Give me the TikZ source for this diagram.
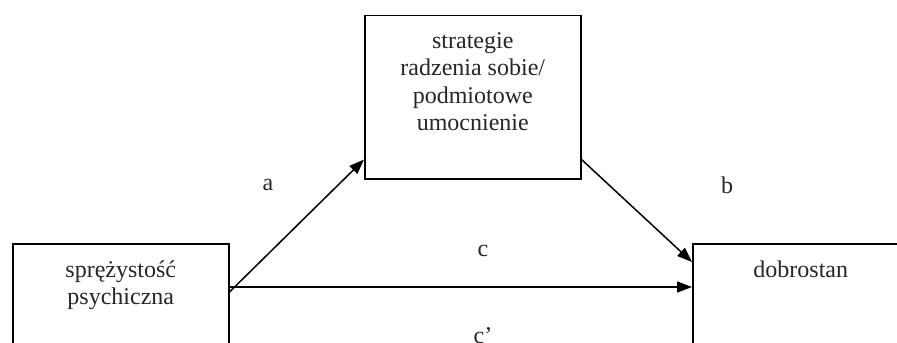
\documentclass[tikz,border=0pt]{standalone}
\usepackage{fontspec}
\setmainfont{Liberation Serif}
\usetikzlibrary{arrows.meta,calc}
\begin{document}
\begin{tikzpicture}[x=0.5pt,y=-0.5pt,
  box/.style={draw=black,line width=0.75pt,rectangle,inner sep=0pt,anchor=north west},
  txt/.style={font=\fontsize{12}{13.7}\selectfont,align=center,inner sep=0pt,text=black!85},
  arr/.style={line width=0.75pt,-{Triangle[length=7.5pt,width=5.5pt]}}]
\useasboundingbox (0,0) rectangle (897,342);
\clip (0,0) rectangle (897,342);
\node[box,minimum width=108pt,minimum height=81.5pt] (top) at (364,15) {};
\node[box,minimum width=108pt,minimum height=100pt] (left) at (12,243) {};
\node[box,minimum width=108pt,minimum height=100pt] (right) at (692,243) {};
\node[txt,anchor=north] (toptext) at ($(top.north)+(0,17)$) {strategie\\radzenia sobie/\\podmiotowe\\umocnienie};
\node[txt,anchor=north] (lefttext) at ($(left.north)+(0,17)$) {sprężystość\\psychiczna};
\node[txt,anchor=north] (righttext) at ($(right.north)+(0,17)$) {dobrostan};
\coordinate (aS) at ($(left.north east)+(0,49)$);
\coordinate (aE) at ($(top.south west)+(0,-20)$);
\coordinate (bS) at ($(top.south east)+(0,-20)$);
\coordinate (bE) at ($(right.north west)+(0,19)$);
\coordinate (cS) at ($(left.north east)+(0,44)$);
\coordinate (cE) at ($(right.north west)+(0,44)$);
\draw[arr] (aS) -- (aE);
\draw[arr] (bS) -- (bE);
\draw[arr] (cS) -- (cE);
\node[txt] (la) at (268,185) {a};
\node[txt] (lb) at (727,185) {b};
\node[txt] (lc) at (483,251) {c};
\node[txt] (lcp) at (483,336) {c’};
\end{tikzpicture}
\end{document}
